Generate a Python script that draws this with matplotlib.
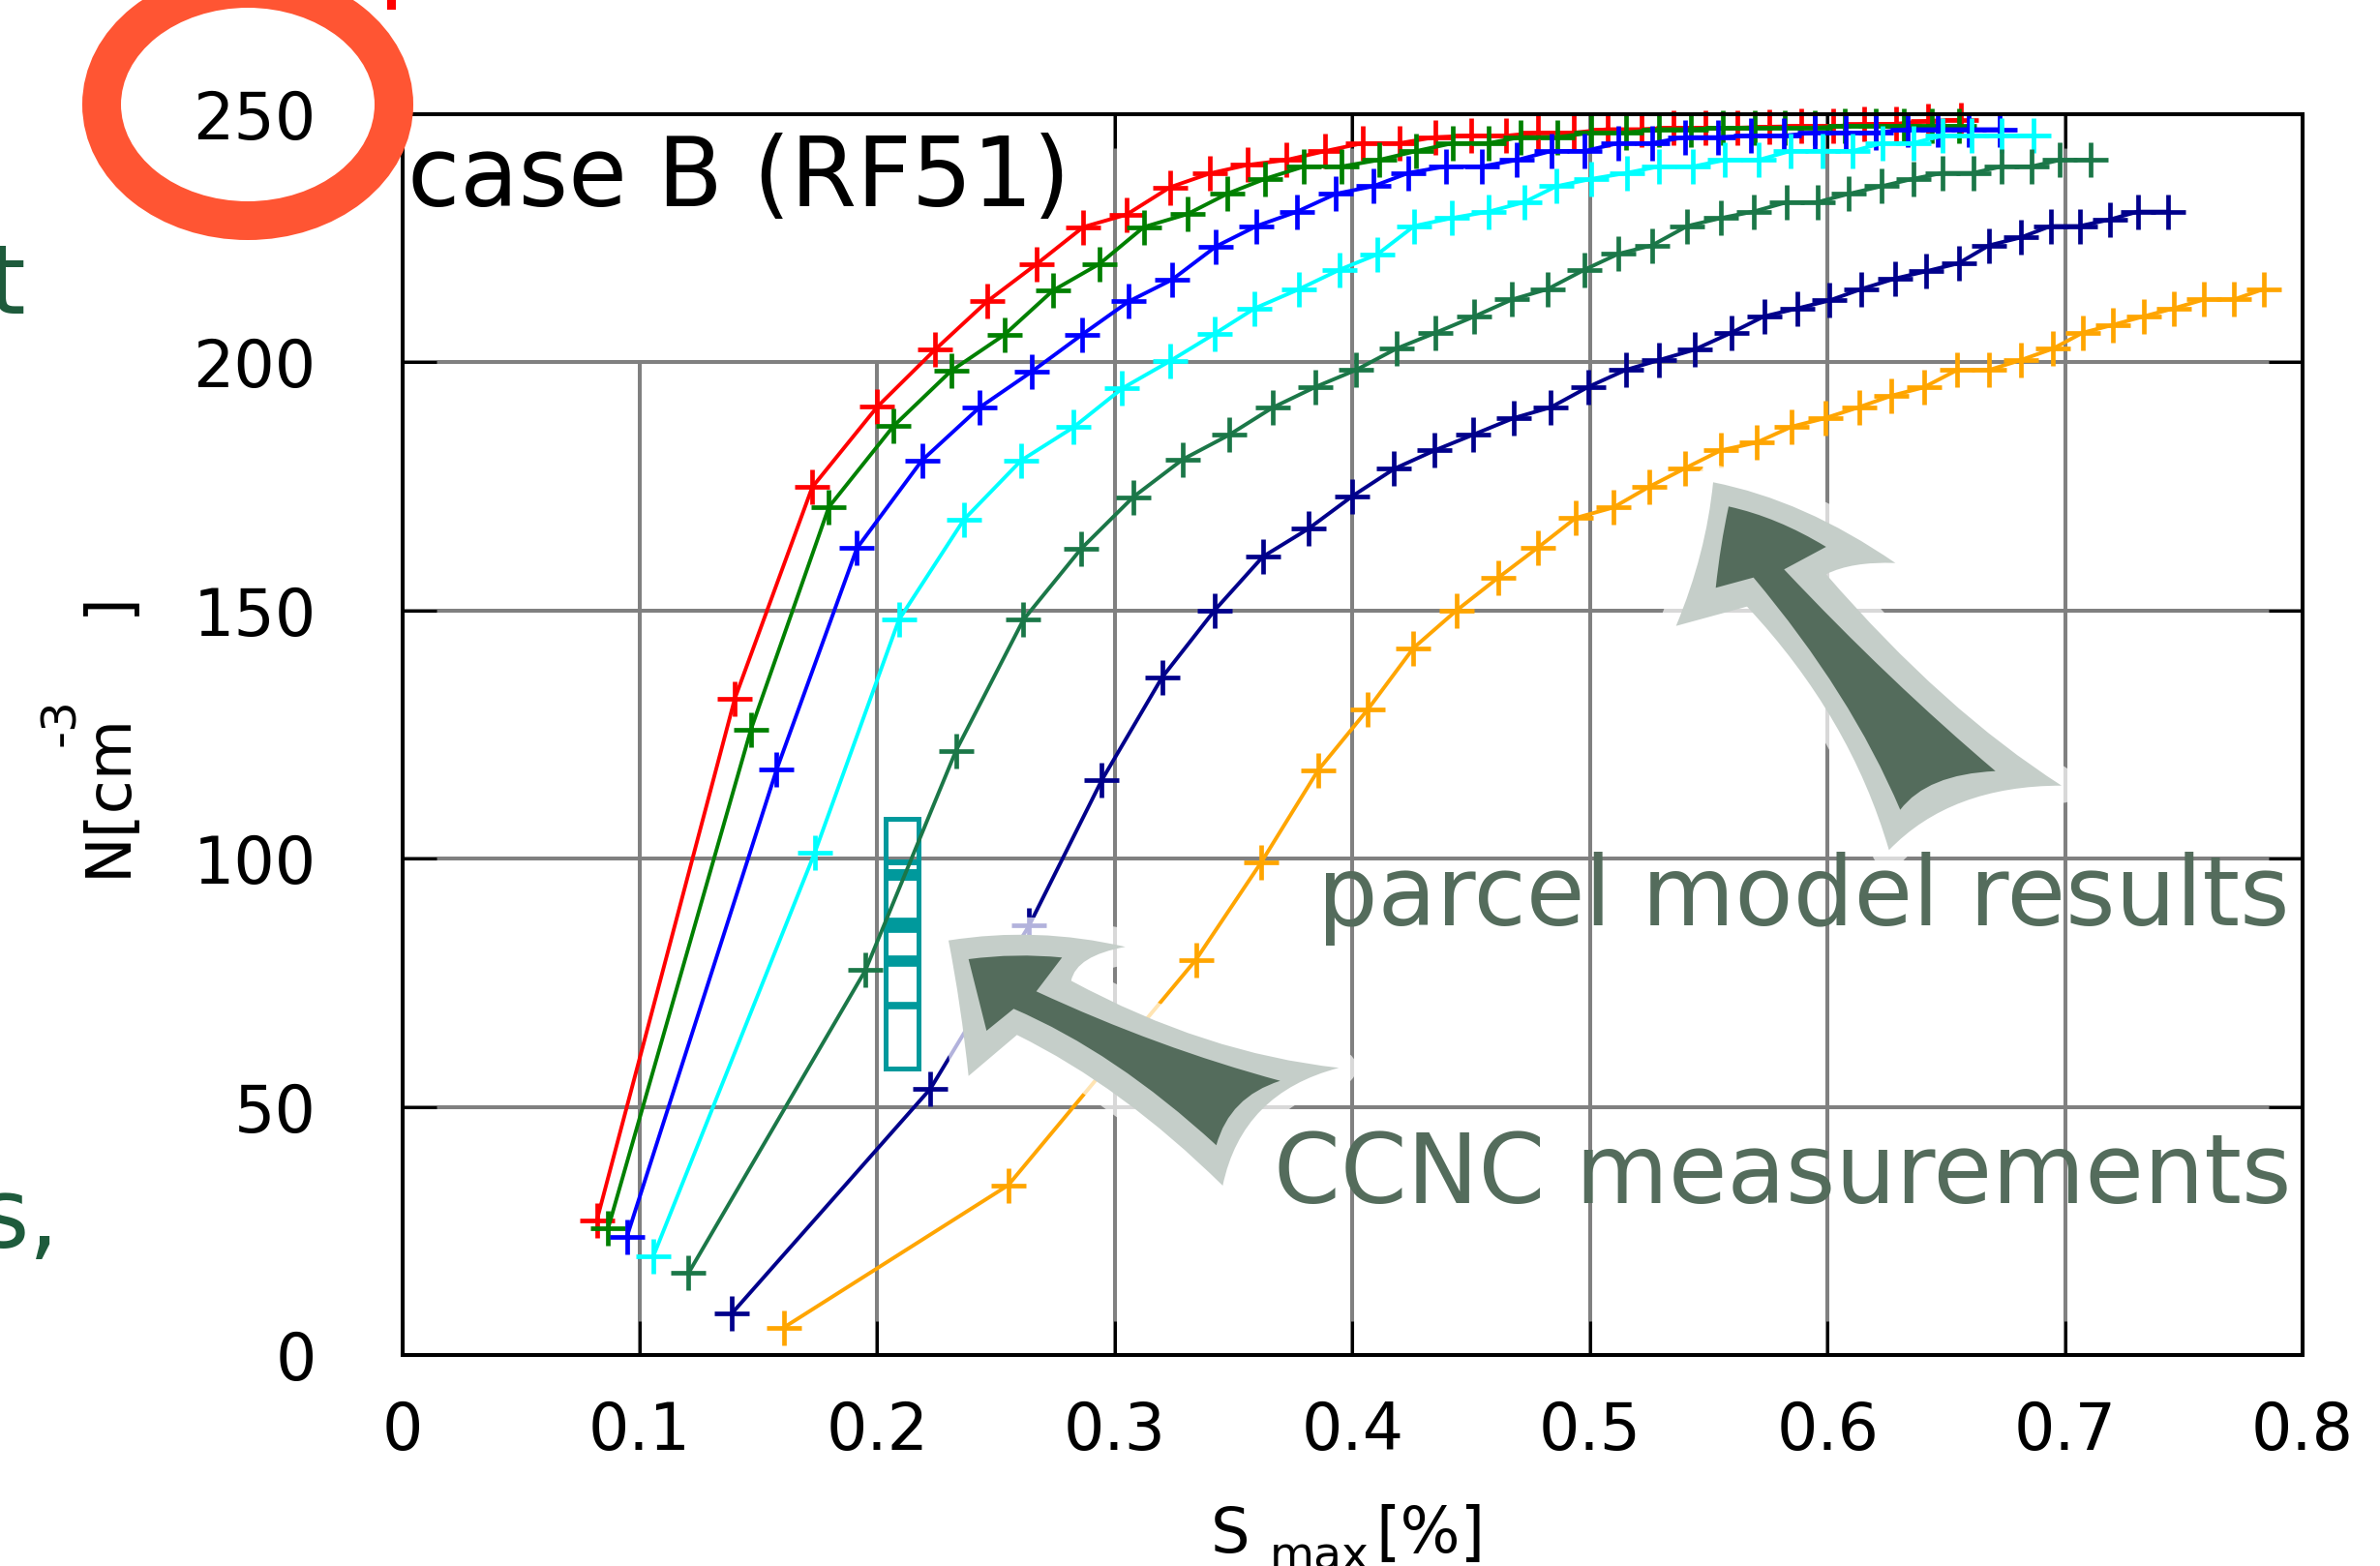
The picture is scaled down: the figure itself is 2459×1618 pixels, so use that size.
import matplotlib
matplotlib.use("Agg")
import matplotlib.pyplot as plt
import matplotlib.transforms as mtransforms
from matplotlib.path import Path
from matplotlib.patches import PathPatch, Rectangle, Ellipse

W, H, DPI = 2459, 1618, 100

# ---------------------------------------------------------------- data
x_ticks = [0, 0.1, 0.2, 0.3, 0.4, 0.5, 0.6, 0.7, 0.8]
x_tick_labels = ["0", "0.1", "0.2", "0.3", "0.4", "0.5", "0.6", "0.7", "0.8"]
y_ticks = [0, 50, 100, 150, 200, 250]
y_tick_labels = ["0", "50", "100", "150", "200", "250"]

red_s = [0.0819, 0.1400, 0.1726, 0.2000, 0.2243, 0.2462, 0.2672, 0.2867, 0.3049,
         0.3232, 0.3400, 0.3558, 0.3722, 0.3886, 0.4045, 0.4200, 0.4350, 0.4499,
         0.4648, 0.4783, 0.4932, 0.5073, 0.5216, 0.5350, 0.5485, 0.5619, 0.5753,
         0.5888, 0.6022, 0.6156, 0.6290, 0.6425, 0.6560]
red_n = [27.1, 132.2, 174.8, 191.0, 202.5, 212.2, 219.8, 227.2, 229.7,
         235.2, 238.0, 239.7, 240.7, 242.5, 244.1, 244.1, 245.3, 245.6,
         245.6, 246.2, 246.2, 246.9, 246.9, 247.2, 247.2, 247.2, 247.4,
         247.5, 247.5, 247.9, 248.0, 248.6, 248.8]

green_s = [0.0867, 0.1468, 0.1796, 0.2068, 0.2310, 0.2535, 0.2739, 0.2936, 0.3122,
           0.3305, 0.3473, 0.3632, 0.3797, 0.3955, 0.4111, 0.4269, 0.4424, 0.4574,
           0.4708, 0.4863, 0.5007, 0.5150, 0.5291, 0.5425, 0.5560, 0.5694, 0.5820,
           0.5948, 0.6074, 0.6202, 0.6321, 0.6441, 0.6554]
green_n = [25.6, 126.0, 170.8, 187.1, 198.2, 205.5, 214.4, 219.8, 227.2,
           229.8, 233.9, 236.9, 239.4, 239.4, 240.7, 242.5, 244.1, 244.1,
           245.3, 245.3, 246.2, 246.2, 246.9, 246.9, 247.2, 247.2, 247.2,
           247.2, 247.5, 247.5, 247.5, 247.5, 247.5]

blue_s = [0.0945, 0.1576, 0.1914, 0.2188, 0.2429, 0.2651, 0.2861, 0.3058, 0.3241,
          0.3426, 0.3597, 0.3767, 0.3931, 0.4087, 0.4236, 0.4394, 0.4544, 0.4693,
          0.4837, 0.4977, 0.5120, 0.5261, 0.5401, 0.5539, 0.5679, 0.5814, 0.5948,
          0.6077, 0.6202, 0.6336, 0.6465, 0.6596, 0.6725]
blue_n = [23.7, 117.9, 162.5, 180.2, 190.8, 198.1, 205.5, 212.2, 216.6,
          223.3, 227.4, 230.3, 233.9, 235.4, 238.1, 239.4, 239.4, 240.7,
          242.5, 242.5, 244.1, 244.1, 245.3, 245.3, 245.6, 245.6, 246.2,
          246.2, 246.2, 246.9, 246.9, 246.9, 246.9]

cyan_s = [0.1057, 0.1736, 0.2091, 0.2365, 0.2606, 0.2827, 0.3031, 0.3232, 0.3420,
          0.3588, 0.3776, 0.3946, 0.4105, 0.4260, 0.4418, 0.4574, 0.4723, 0.4858,
          0.5007, 0.5156, 0.5291, 0.5434, 0.5569, 0.5709, 0.5843, 0.5978, 0.6106,
          0.6232, 0.6360, 0.6486, 0.6605, 0.6734, 0.6868]
cyan_n = [19.9, 101.1, 148.1, 168.3, 180.2, 186.9, 194.7, 200.2, 205.7,
          210.8, 214.7, 218.6, 221.7, 227.4, 229.0, 230.3, 232.2, 235.4,
          236.9, 238.1, 239.4, 239.4, 240.7, 240.7, 242.5, 242.5, 242.5,
          244.1, 244.1, 245.6, 245.6, 245.6, 245.6]

dkgreen_s = [0.1205, 0.1950, 0.2331, 0.2615, 0.2858, 0.3077, 0.3286, 0.3480, 0.3663,
             0.3845, 0.4015, 0.4185, 0.4350, 0.4514, 0.4672, 0.4822, 0.4977, 0.5120,
             0.5261, 0.5410, 0.5551, 0.5688, 0.5829, 0.5957, 0.6091, 0.6226, 0.6360,
             0.6486, 0.6614, 0.6734, 0.6859, 0.6979, 0.7107]
dkgreen_n = [16.5, 77.5, 121.7, 148.1, 162.4, 172.8, 180.4, 185.3, 190.8,
             195.0, 198.4, 202.7, 205.9, 209.2, 212.6, 214.7, 218.6, 221.8,
             223.5, 227.4, 229.0, 230.3, 232.2, 232.2, 233.9, 235.4, 236.9,
             238.1, 238.1, 239.4, 239.4, 240.7, 240.7]

navy_s = [0.1388, 0.2223, 0.2639, 0.2945, 0.3199, 0.3420, 0.3623, 0.3814, 0.4000,
          0.4176, 0.4346, 0.4510, 0.4678, 0.4836, 0.4993, 0.5150, 0.5291, 0.5440,
          0.5595, 0.5733, 0.5873, 0.6008, 0.6142, 0.6283, 0.6417, 0.6552, 0.6680,
          0.6814, 0.6940, 0.7062, 0.7188, 0.7307, 0.7433]
navy_n = [8.4, 53.6, 86.5, 115.8, 136.5, 150.0, 160.8, 166.4, 173.0,
          178.5, 182.2, 185.4, 188.7, 190.9, 195.0, 198.4, 200.4, 202.5,
          205.9, 209.2, 210.8, 212.4, 214.7, 216.8, 218.3, 219.9, 223.5,
          225.1, 227.4, 227.4, 228.7, 230.3, 230.3]

orange_s = [0.1605, 0.2551, 0.3341, 0.3617, 0.3856, 0.4066, 0.4257, 0.4439, 0.4612,
            0.4780, 0.4940, 0.5098, 0.5250, 0.5400, 0.5550, 0.5702, 0.5850, 0.5990,
            0.6132, 0.6268, 0.6405, 0.6546, 0.6680, 0.6814, 0.6949, 0.7074, 0.7203,
            0.7331, 0.7457, 0.7585, 0.7711, 0.7836]
orange_n = [5.5, 34.2, 79.6, 99.3, 117.8, 130.1, 142.4, 150.0, 156.5,
            162.6, 168.6, 170.7, 174.9, 178.6, 182.2, 183.8, 187.0, 188.7,
            190.9, 193.2, 194.9, 198.4, 198.4, 200.4, 202.7, 205.9, 207.5,
            209.2, 210.8, 212.6, 212.6, 214.7]

# CCNC measurement window and the measured concentrations inside it
ccnc_s_range = [0.2035, 0.2175]
ccnc_n_range = [57.7, 108.0]
ccnc_levels = [99.3, 96.6, 86.6, 79.3, 70.4]
ccnc_level_widths = [4.3, 8.6, 11.3, 8.4, 5.5]

series = [
    (red_s, red_n, "#ff0000"),
    (green_s, green_n, "#008000"),
    (blue_s, blue_n, "#0000ff"),
    (cyan_s, cyan_n, "#00ffff"),
    (dkgreen_s, dkgreen_n, "#1b7748"),
    (navy_s, navy_n, "#00008b"),
    (orange_s, orange_n, "#ffa500"),
]

# ---------------------------------------------------------------- figure
fig = plt.figure(figsize=(W / DPI, H / DPI), dpi=DPI)
# transform for figure pixel coordinates measured from the top-left corner
px = mtransforms.Affine2D().scale(1 / W, -1 / H).translate(0, 1) + fig.transFigure

ax_l, ax_r, ax_t, ax_b = 415.6, 2379.0, 117.6, 1400.0
ax = fig.add_axes([ax_l / W, 1 - ax_b / H, (ax_r - ax_l) / W, (ax_b - ax_t) / H])
ax.set_xlim(0, 0.8)
ax.set_ylim(0, 250)
ax.set_xticks(x_ticks)
ax.set_xticklabels(x_tick_labels)
ax.set_yticks(y_ticks)
ax.set_yticklabels(y_tick_labels)
ax.grid(True, color="#808080", lw=2.9)
ax.tick_params(direction="in", length=25, width=2.2, top=True, right=True,
               labelsize=48, colors="black")
ax.tick_params(axis="x", pad=33)
ax.tick_params(axis="y", pad=64)
for sp in ax.spines.values():
    sp.set_linewidth(2.9)

# opaque title box hides grid and ticks in the upper-left corner
ax.add_patch(Rectangle((0, 200.4), 0.295, 49.6, facecolor="white",
                       edgecolor="none", zorder=1.8))
ax.text(421, 213, "case B (RF51)", transform=px, fontsize=71,
        ha="left", va="baseline", zorder=7)

# CCNC measurement box
ax.add_patch(Rectangle((ccnc_s_range[0], ccnc_n_range[0]),
                       ccnc_s_range[1] - ccnc_s_range[0],
                       ccnc_n_range[1] - ccnc_n_range[0],
                       facecolor="none", edgecolor="#00999c", lw=3.6, zorder=1.9))
for lev, lw in zip(ccnc_levels, ccnc_level_widths):
    ax.plot(ccnc_s_range, [lev, lev], color="#00999c", lw=lw,
            solid_capstyle="butt", zorder=1.9)

# parcel model curves
for s, n, c in series:
    ax.plot(s, n, color=c, lw=2.8, marker="+", ms=26, mew=3.4,
            clip_on=False, zorder=2)


# ---------------------------------------------------------------- arrows
def shape_path(start, segs):
    verts, codes = [start], [Path.MOVETO]
    for seg in segs:
        if seg[0] == "Q":
            verts += [seg[1], seg[2]]
            codes += [Path.CURVE3, Path.CURVE3]
        else:
            verts.append(seg[1])
            codes.append(Path.LINETO)
    verts.append(start)
    codes.append(Path.CLOSEPOLY)
    return Path(verts, codes)


low_outer = shape_path((980.0, 971.7), [
    ("Q", (1071.3, 957.0), (1162.7, 978.3)),
    ("Q", (1112.0, 987.5), (1106.7, 1013.3)),
    ("Q", (1245.0, 1088.3), (1383.3, 1103.3)),
    ("Q", (1283.3, 1129.2), (1263.3, 1225.0)),
    ("Q", (1159.7, 1122.8), (1050.7, 1069.3)),
    ("L", (1000.7, 1111.7)),
    ("Q", (993.0, 1038.3), (980.0, 971.7)),
])
low_inner = shape_path((1000.7, 991.0), [
    ("Q", (1049.0, 984.5), (1097.3, 989.3)),
    ("L", (1070.7, 1024.3)),
    ("Q", (1196.7, 1082.8), (1322.7, 1116.7)),
    ("Q", (1270.3, 1133.3), (1256.7, 1183.3)),
    ("Q", (1152.0, 1087.2), (1047.3, 1042.3)),
    ("L", (1019.3, 1065.0)),
    ("L", (1000.7, 991.0)),
])
up_outer = shape_path((1770.0, 498.3), [
    ("Q", (1864.0, 516.7), (1958.3, 581.7)),
    ("Q", (1913.3, 580.0), (1886.7, 593.3)),
    ("Q", (2008.3, 734.0), (2130.0, 811.7)),
    ("Q", (2015.8, 811.7), (1951.7, 878.3)),
    ("Q", (1911.7, 740.8), (1805.0, 626.7)),
    ("L", (1731.7, 646.7)),
    ("Q", (1762.7, 572.3), (1770.0, 498.3)),
])
up_inner = shape_path((1786.0, 523.3), [
    ("Q", (1836.3, 534.3), (1886.7, 565.0)),
    ("L", (1843.3, 588.3)),
    ("Q", (1952.5, 704.2), (2061.7, 796.7)),
    ("Q", (1990.8, 800.0), (1963.3, 836.7)),
    ("Q", (1912.5, 716.7), (1811.7, 596.7)),
    ("L", (1772.7, 607.3)),
    ("Q", (1777.3, 563.3), (1786.0, 523.3)),
])

for outer, inner in [(low_outer, low_inner), (up_outer, up_inner)]:
    ax.add_patch(PathPatch(outer, transform=px, facecolor="none",
                           edgecolor=(1, 1, 1, 0.7), lw=26, joinstyle="round",
                           clip_on=False, zorder=4))
    ax.add_patch(PathPatch(outer, transform=px, facecolor="#c5cec9",
                           edgecolor="none", clip_on=False, zorder=4.1))
    ax.add_patch(PathPatch(inner, transform=px, facecolor="#546c5c",
                           edgecolor="none", clip_on=False, zorder=4.2))

ax.text(2366, 956, "parcel model results", transform=px, fontsize=71,
        color="#546c5c", ha="right", va="baseline", zorder=6)
ax.text(2368, 1243, "CCNC measurements", transform=px, fontsize=71,
        color="#546c5c", ha="right", va="baseline", zorder=6)

# ---------------------------------------------------------------- axis titles
ylab = dict(transform=px, rotation=90, rotation_mode="anchor",
            ha="left", va="baseline")
fig.text(129, 906, "N[cm", fontsize=46, **ylab)
fig.text(77, 771, "-3", fontsize=36, **ylab)
fig.text(129, 636, "]", fontsize=46, **ylab)

fig.text(1251, 1604, "S", transform=px, fontsize=46, ha="left", va="baseline")
fig.text(1312, 1622, "max", transform=px, fontsize=34, ha="left", va="baseline")
fig.text(1421, 1604, "[%]", transform=px, fontsize=47, ha="left", va="baseline")

# ---------------------------------------------------------------- page decorations
fig.add_artist(Ellipse((256, 108), 302, 240, transform=px, facecolor="none",
                       edgecolor="#ff5533", lw=28.8, zorder=10))
fig.add_artist(Rectangle((400, 0), 9, 10, transform=px, facecolor="#ff0000",
                         edgecolor="none", zorder=10))
fig.text(26, 324, "t", transform=px, fontsize=71, color="#1e5b3c",
         ha="right", va="baseline")
fig.text(61, 1289, "s,", transform=px, fontsize=71, color="#1e5b3c",
         ha="right", va="baseline")

fig.savefig("out.png", dpi=DPI)
